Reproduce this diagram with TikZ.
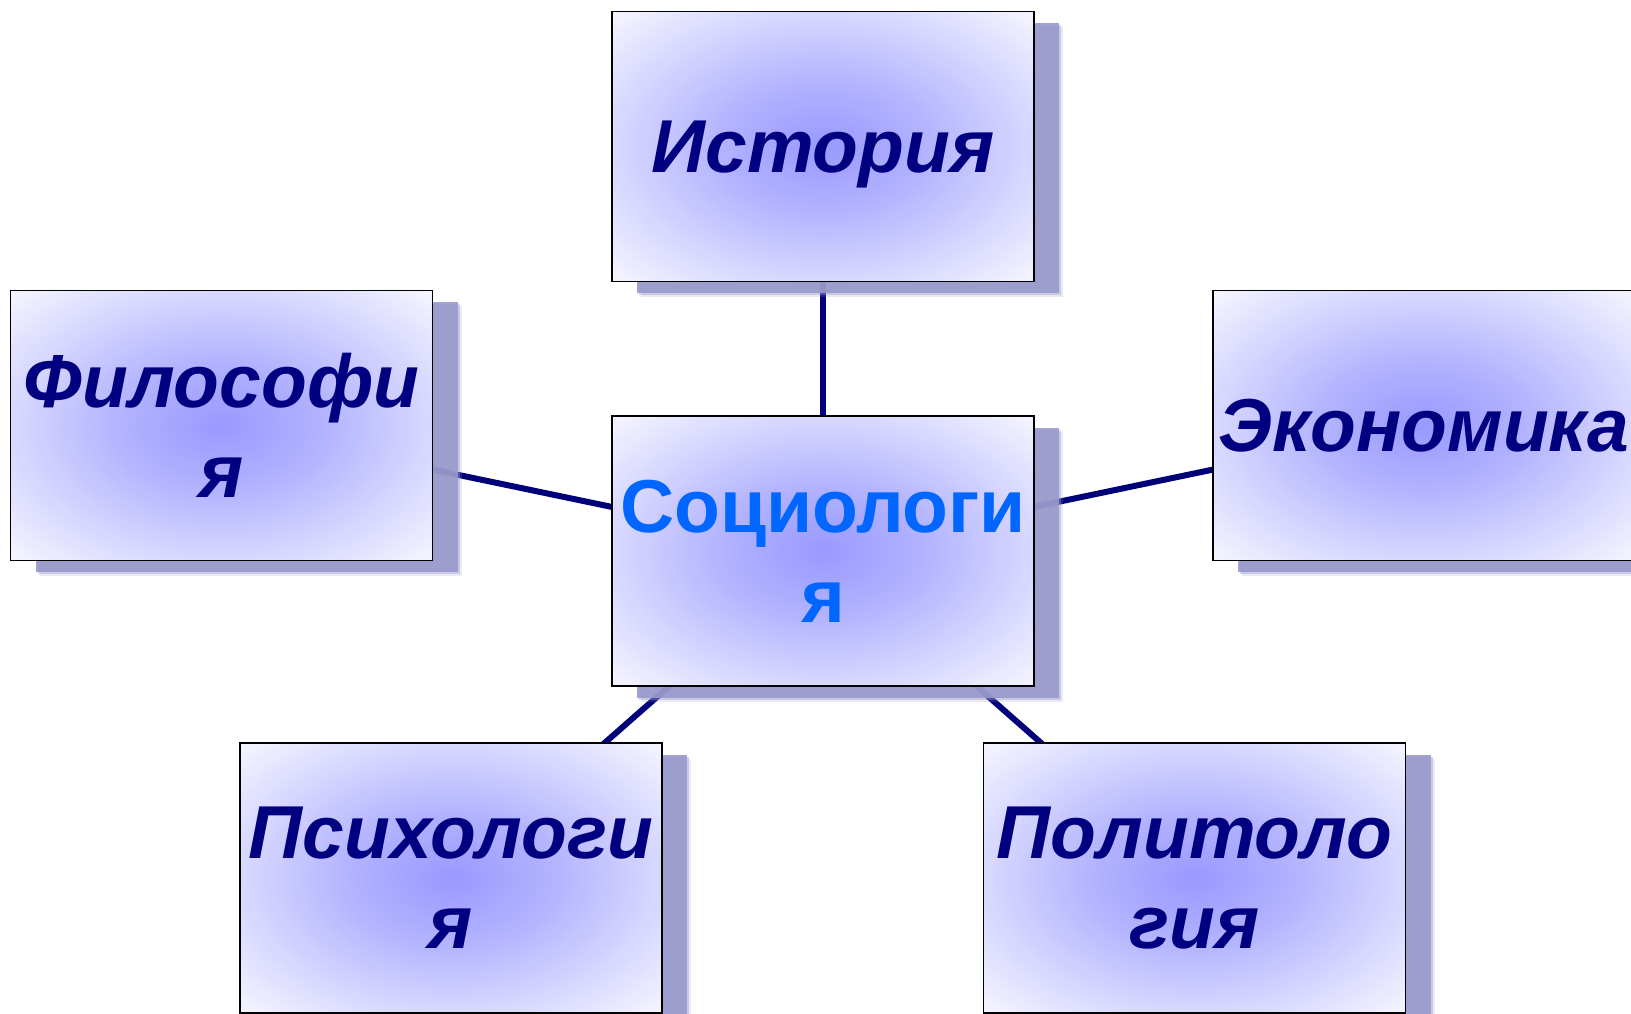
\documentclass[tikz,border=0pt]{standalone}
\usepackage{fontspec}
\setmainfont{Liberation Sans}
\usetikzlibrary{shadows,backgrounds}

\definecolor{navytext}{RGB}{0,0,128}
\definecolor{linkcol}{RGB}{0,0,120}
\definecolor{coretext}{RGB}{0,102,255}
\definecolor{shadowcol}{RGB}{153,153,204}
\pgfdeclareradialshading{boxglow}{\pgfpoint{0bp}{0bp}}{%
  rgb(0bp)=(0.6,0.6,1); rgb(12bp)=(0.7,0.7,1); rgb(25bp)=(0.85,0.85,1);
  rgb(36bp)=(0.97,0.97,1); rgb(50bp)=(1,1,1)}

\begin{document}
\begin{tikzpicture}[x=1pt, y=1pt,
    subject/.style={draw=black, line width=1.5pt, shading=boxglow,
        minimum width=422pt, minimum height=270pt, inner sep=0pt,
        align=center, text=navytext,
        font=\fontsize{75}{90}\selectfont\bfseries\itshape,
        drop shadow={shadow xshift=29pt, shadow yshift=-16pt, fill=shadowcol, opacity=.2},
        drop shadow={shadow xshift=27pt, shadow yshift=-14pt, fill=shadowcol, opacity=.4},
        drop shadow={shadow xshift=25pt, shadow yshift=-12pt, fill=shadowcol, opacity=.9}},
    core/.style={subject, text=coretext, font=\fontsize{75}{90}\selectfont\bfseries},
    link/.style={draw=linkcol, line width=6pt}]
    \useasboundingbox (0,0) rectangle (1631,1013);
    % Subject boxes around the centre
    \node[subject, text depth=0pt] (hist) at (823,866.5) {История};
    \node[subject] (phil) at (221.5,587.5) {Философи\\я};
    \node[subject] (econ) at (1424,587.5) {Экономика};
    \node[core] (soc) at (823,462) {Социологи\\я};
    \node[subject] (psych) at (451,135) {Психологи\\я};
    \node[subject] (polit) at (1194.5,135) {Политоло\\гия};
    % Links from the centre, behind the boxes
    \begin{pgfonlayer}{background}
        \fill[white] (0,0) rectangle (1631,1013);
        \foreach \n in {hist,phil,econ,psych,polit} {
            \draw[link] (soc.center) -- (\n.center);
        }
    \end{pgfonlayer}
\end{tikzpicture}
\end{document}
